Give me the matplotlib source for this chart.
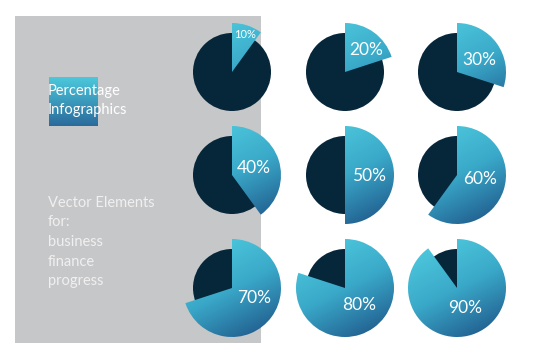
import matplotlib
matplotlib.use('Agg')
import matplotlib.pyplot as plt
from matplotlib.patches import Circle, Wedge, Rectangle
from matplotlib.colors import LinearSegmentedColormap
import numpy as np

# percentages shown on each pie (row by row)
percents = [10, 20, 30, 40, 50, 60, 70, 80, 90]
labels = ['10%', '20%', '30%', '40%', '50%', '60%', '70%', '80%', '90%']
title_lines = ['Percentage', 'Infographics']
side_lines = ['Vector Elements', 'for:', 'business', 'finance', 'progress']

# layout (pixels)
col_x = [232, 345, 457]
row_y = [72, 175, 288]
label_pos = [(245, 34), (366, 50), (479, 60),
             (254, 168), (369, 176), (480, 179),
             (254, 298), (359, 305), (465, 308)]
label_size = [8, 12.5, 12.5, 12.5, 12.5, 12.5, 12.5, 12.5, 12.5]
r_dark = 39
r_big = 49

grad = LinearSegmentedColormap.from_list('g', ['#52d0e2', '#3aa9c9', '#1c4f83'])
dark = '#06263a'
fnt = 'Lato'

fig = plt.figure(figsize=(5.4, 3.6), dpi=100)
ax = fig.add_axes([0, 0, 1, 1])
ax.set_xlim(0, 540)
ax.set_ylim(360, 0)
ax.set_aspect('equal')
ax.axis('off')

# grey panel
ax.add_patch(Rectangle((15, 16), 246, 327, facecolor='#c6c7c9', edgecolor='none', zorder=0))

# gradient square behind the title
sq = Rectangle((49, 77), 49, 49, facecolor='none', edgecolor='none')
ax.add_patch(sq)
vg = np.linspace(0, 1, 100).reshape(-1, 1)
im = ax.imshow(vg, cmap=LinearSegmentedColormap.from_list('s', ['#4cc8dc', '#2a6b9c']),
               extent=(49, 98, 126, 77), aspect='auto', zorder=1)
im.set_clip_path(sq)

for i, ln in enumerate(title_lines):
    ax.text(48, 91 + i * 19, ln, color='white', fontsize=10.5, family=fnt,
            fontweight='normal', va='center', ha='left', zorder=3)

for i, ln in enumerate(side_lines):
    ax.text(48, 203 + i * 19.5, ln, color='#f0f0f0', fontsize=10.5, family=fnt,
            fontweight='normal', va='center', ha='left', zorder=3)

# gradient image used for the wedges
n = 200
u = np.linspace(-1, 1, n)
X, Y = np.meshgrid(u, u)
d = np.array([0.45, 0.9])
d = d / np.linalg.norm(d)
G = (X * d[0] + Y * d[1])
G = (G - G.min()) / (G.max() - G.min())

for k, p in enumerate(percents):
    cx = col_x[k % 3]
    cy = row_y[k // 3]
    ax.add_patch(Circle((cx, cy), r_dark, facecolor=dark, edgecolor='none', zorder=2))
    w = Wedge((cx, cy), r_big, 270, 270 + 360 * p / 100, facecolor='none', edgecolor='none')
    ax.add_patch(w)
    img = ax.imshow(G, cmap=grad, extent=(cx - r_big, cx + r_big, cy + r_big, cy - r_big),
                    aspect='auto', zorder=3)
    img.set_clip_path(w)
    lx, ly = label_pos[k]
    ax.text(lx, ly, labels[k], color='white', fontsize=label_size[k], family=fnt,
            fontweight='normal', ha='center', va='center', zorder=4)

ax.set_xlim(0, 540)
ax.set_ylim(360, 0)
fig.savefig('out.png', dpi=100, facecolor='white')
